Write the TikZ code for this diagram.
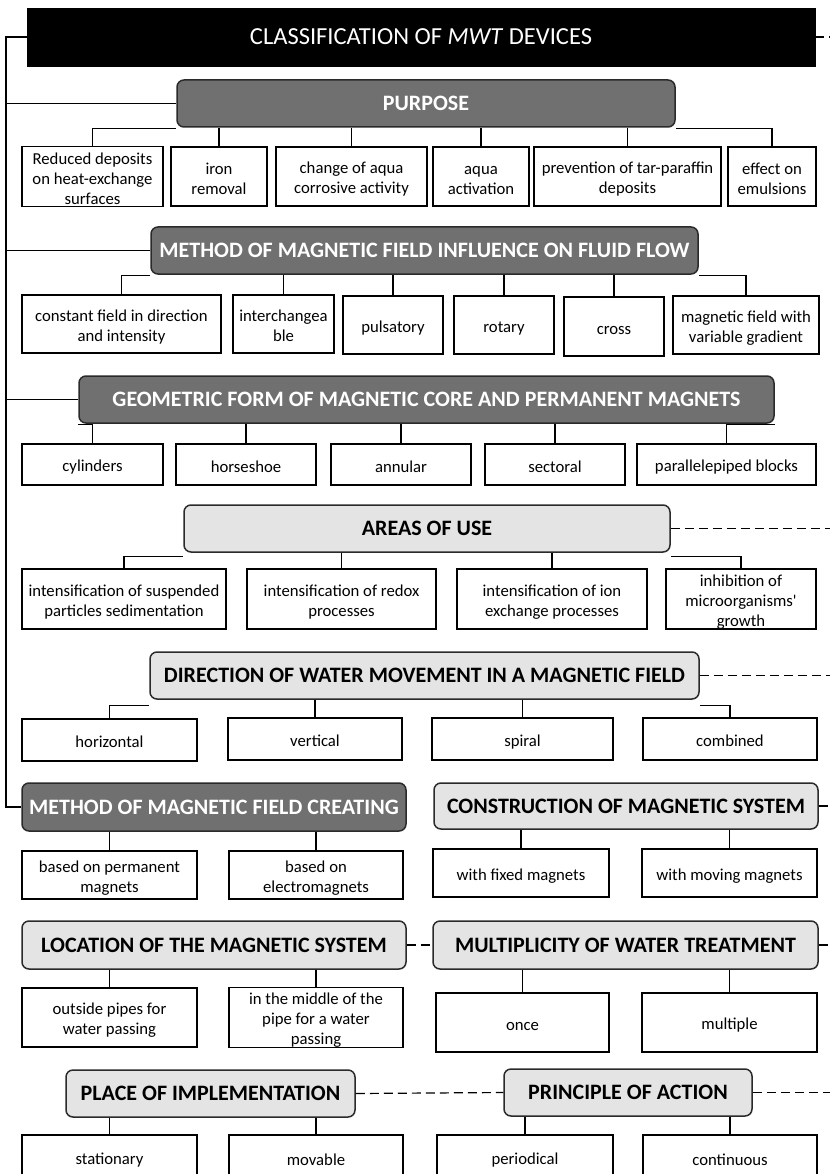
\documentclass[tikz,border=0pt]{standalone}
\usepackage{fontspec}
\setmainfont{Carlito}
\definecolor{darkfill}{HTML}{707070}
\definecolor{lightfill}{HTML}{E4E4E4}
\definecolor{edgegray}{HTML}{2A2A2A}
\newcommand{\bx}[7]{%
  \pgfmathsetmacro{\mybw}{#5-#3}\pgfmathsetmacro{\mybh}{#6-#4}%
  \pgfmathsetmacro{\mybcx}{(#3+#5)/2}\pgfmathsetmacro{\mybcy}{(#4+#6)/2}%
  \node[#1, minimum width=\mybw pt, minimum height=\mybh pt] (#2) at (\mybcx,\mybcy) {#7};}
\newcommand{\hs}{\rule{0pt}{17.3pt}}
\newcommand{\ls}{\rule[-2.2pt]{0pt}{0pt}}
\tikzset{
  titlebox/.style={fill=black, draw=black, text=white, inner sep=0pt, font=\fontsize{24.5}{28}\selectfont},
  darkbox/.style={rounded corners=7pt, fill=darkfill, draw=edgegray, line width=1.5pt, text=white, inner sep=0pt, font=\bfseries\fontsize{22}{26}\selectfont},
  lightbox/.style={rounded corners=7pt, fill=lightfill, draw=edgegray, line width=1.5pt, text=black, inner sep=0pt, font=\bfseries\fontsize{22}{26}\selectfont},
  leaf/.style={draw=black, fill=white, line width=1.25pt, inner sep=0pt, align=center, font=\fontsize{16.7}{20}\selectfont},
  conn/.style={line width=1.2pt, draw=black},
  trunk/.style={line width=1.4pt, draw=black},
  dline/.style={line width=1.2pt, draw=black, dash pattern=on 9pt off 5pt}
}
\begin{document}
\begin{tikzpicture}[x=1pt,y=-1pt]
\useasboundingbox (0,0) rectangle (830,1174);
\fill[white] (0,0) rectangle (830,1174);
\coordinate (R) at (830,0);
\coordinate (tb) at (6,807);
% title
\bx{titlebox}{title}{27}{8}{815}{66}{CLASSIFICATION OF \textit{MWT} DEVICES}
% purpose
\bx{darkbox}{purpose}{177}{80}{675}{127}{PURPOSE}
\bx{leaf}{p1}{22}{147}{163}{206}{\hs Reduced deposits\\on heat-exchange\\surfaces\ls}
\bx{leaf}{p2}{171}{147}{267}{206}{\hs iron\\removal\ls}
\bx{leaf}{p3}{276}{147}{427}{206}{\hs change of aqua\\corrosive activity\ls}
\bx{leaf}{p4}{433}{147}{529}{206}{\hs aqua\\activation\ls}
\bx{leaf}{p5}{534}{147}{721}{206}{\hs prevention of tar-paraffin\\deposits\ls}
\bx{leaf}{p6}{728}{147}{816}{206}{\hs effect on\\emulsions\ls}
% method influence
\bx{darkbox}{minf}{151}{227}{698}{274}{METHOD OF MAGNETIC FIELD INFLUENCE ON FLUID FLOW}
\bx{leaf}{m1}{22}{295}{221}{353}{\hs constant field in direction\\and intensity\ls}
\bx{leaf}{m2}{233}{295}{334}{353}{\hs interchangea\\ble\ls}
\bx{leaf}{m3}{343}{296}{443}{354}{\hs pulsatory\ls}
\bx{leaf}{m4}{454}{296}{554}{354}{\hs rotary\ls}
\bx{leaf}{m5}{564}{297}{664}{356}{\hs cross\ls}
\bx{leaf}{m6}{673}{296}{819}{354}{\hs magnetic field with\\variable gradient\ls}
% geometric
\bx{darkbox}{geo}{79}{376}{774}{423}{GEOMETRIC FORM OF MAGNETIC CORE AND PERMANENT MAGNETS}
\bx{leaf}{g1}{22}{444}{163}{485}{\hs cylinders\ls}
\bx{leaf}{g2}{176}{444}{316}{485}{\hs horseshoe\ls}
\bx{leaf}{g3}{331}{444}{471}{485}{\hs annular\ls}
\bx{leaf}{g4}{485}{444}{625}{485}{\hs sectoral\ls}
\bx{leaf}{g5}{637}{444}{816}{485}{\hs parallelepiped blocks\ls}
% areas
\bx{lightbox}{areas}{184}{505}{670}{552}{AREAS OF USE}
\bx{leaf}{a1}{22}{569}{226}{629}{\hs intensification of suspended\\particles sedimentation\ls}
\bx{leaf}{a2}{247}{569}{436}{629}{\hs intensification of redox\\processes\ls}
\bx{leaf}{a3}{457}{569}{647}{629}{\hs intensification of ion\\exchange processes\ls}
\bx{leaf}{a4}{666}{569}{816}{629}{\hs inhibition of\\microorganisms\textquotesingle\\growth\ls}
% direction
\bx{lightbox}{dir}{150}{652}{699}{699}{DIRECTION OF WATER MOVEMENT IN A MAGNETIC FIELD}
\bx{leaf}{d1}{22}{719}{197}{761}{\hs horizontal\ls}
\bx{leaf}{d2}{228}{718}{402}{760}{\hs vertical\ls}
\bx{leaf}{d3}{432}{718}{613}{760}{\hs spiral\ls}
\bx{leaf}{d4}{643}{718}{817}{760}{\hs combined\ls}
% creating
\bx{darkbox}{create}{22}{783}{406}{831}{METHOD OF MAGNETIC FIELD CREATING}
\bx{leaf}{c1}{22}{851}{197}{899}{\hs based on permanent\\magnets\ls}
\bx{leaf}{c2}{229}{851}{403}{899}{\hs based on\\electromagnets\ls}
% construction
\bx{lightbox}{cons}{434}{783}{818}{829}{CONSTRUCTION OF MAGNETIC SYSTEM}
\bx{leaf}{k1}{433}{849}{609}{897}{\hs with fixed magnets\ls}
\bx{leaf}{k2}{642}{849}{817}{897}{\hs with moving magnets\ls}
% location
\bx{lightbox}{loc}{22}{921}{406}{969}{LOCATION OF THE MAGNETIC SYSTEM}
\bx{leaf}{l1}{22}{988}{197}{1047}{\hs outside pipes for\\water passing\ls}
\bx{leaf}{l2}{229}{988}{403}{1047}{\hs in the middle of the\\pipe for a water\\passing\ls}
% multiplicity
\bx{lightbox}{mult}{433}{921}{818}{969}{MULTIPLICITY OF WATER TREATMENT}
\bx{leaf}{u1}{436}{993}{609}{1052}{\hs once\ls}
\bx{leaf}{u2}{642}{993}{817}{1052}{\hs multiple\ls}
% place
\bx{lightbox}{place}{66}{1070}{355}{1117}{PLACE OF IMPLEMENTATION}
\bx{leaf}{s1}{22}{1135}{197}{1180}{\hs stationary\ls}
\bx{leaf}{s2}{229}{1135}{403}{1180}{\hs movable\ls}
% principle
\bx{lightbox}{prin}{504}{1069}{752}{1116}{PRINCIPLE OF ACTION}
\bx{leaf}{r1}{437}{1135}{613}{1180}{\hs periodical\ls}
\bx{leaf}{r2}{643}{1135}{817}{1180}{\hs continuous\ls}

% trunk
\draw[trunk] (title.west) -| (tb) -- (create.west);
\draw[trunk] (purpose.west) -- (purpose.west -| tb);
\draw[trunk] (minf.west) -- (minf.west -| tb);
\draw[trunk] (geo.west) -- (geo.west -| tb);

% purpose children
\draw[conn] (p1.north) |- ([yshift=-1pt]purpose.south west);
\draw[conn] (p6.north) |- ([yshift=-1pt]purpose.south east);
\foreach \n in {p2,p3,p4,p5} \draw[conn] (\n.north) -- (\n.north |- purpose.south);
% method influence children
\draw[conn] (m1.north) |- ([yshift=-1pt]minf.south west);
\draw[conn] (m6.north) |- ([yshift=-1pt]minf.south east);
\foreach \n in {m2,m3,m4,m5} \draw[conn] (\n.north) -- (\n.north |- minf.south);
% geometric children
\draw[conn] (g1.north) |- ([yshift=-1pt]geo.south west);
\draw[conn] (g5.north) |- ([yshift=-1pt]geo.south east);
\foreach \n in {g2,g3,g4} \draw[conn] (\n.north) -- (\n.north |- geo.south);
% areas children
\draw[conn] (a1.north) |- ([yshift=-4pt]areas.south west);
\draw[conn] (a4.north) |- ([yshift=-4pt]areas.south east);
\foreach \n in {a2,a3} \draw[conn] (\n.north) -- (\n.north |- areas.south);
% direction children
\draw[conn] (d1.north) |- ([yshift=-6pt]dir.south west);
\draw[conn] (d4.north) |- ([yshift=-6pt]dir.south east);
\foreach \n in {d2,d3} \draw[conn] (\n.north) -- (\n.north |- dir.south);
% two-child groups
\foreach \n/\p in {c1/create,c2/create,k1/cons,k2/cons,l1/loc,l2/loc,u1/mult,u2/mult,s1/place,s2/place,r1/prin,r2/prin}
  \draw[conn] (\n.north) -- (\n.north |- \p.south);

% dashed links
\draw[dline] (title.east) -- (title.east -| R);
\draw[dline] (areas.east) -- (areas.east -| R);
\draw[dline] (dir.east) -- (dir.east -| R);
\draw[dline] (cons.east) -- (cons.east -| R);
\draw[dline] (mult.east) -- (mult.east -| R);
\draw[dline] (prin.east) -- (prin.east -| R);
\draw[dline] (loc.east) -- (mult.west);
\draw[dline] (place.east) -- (prin.west);
\end{tikzpicture}
\end{document}
